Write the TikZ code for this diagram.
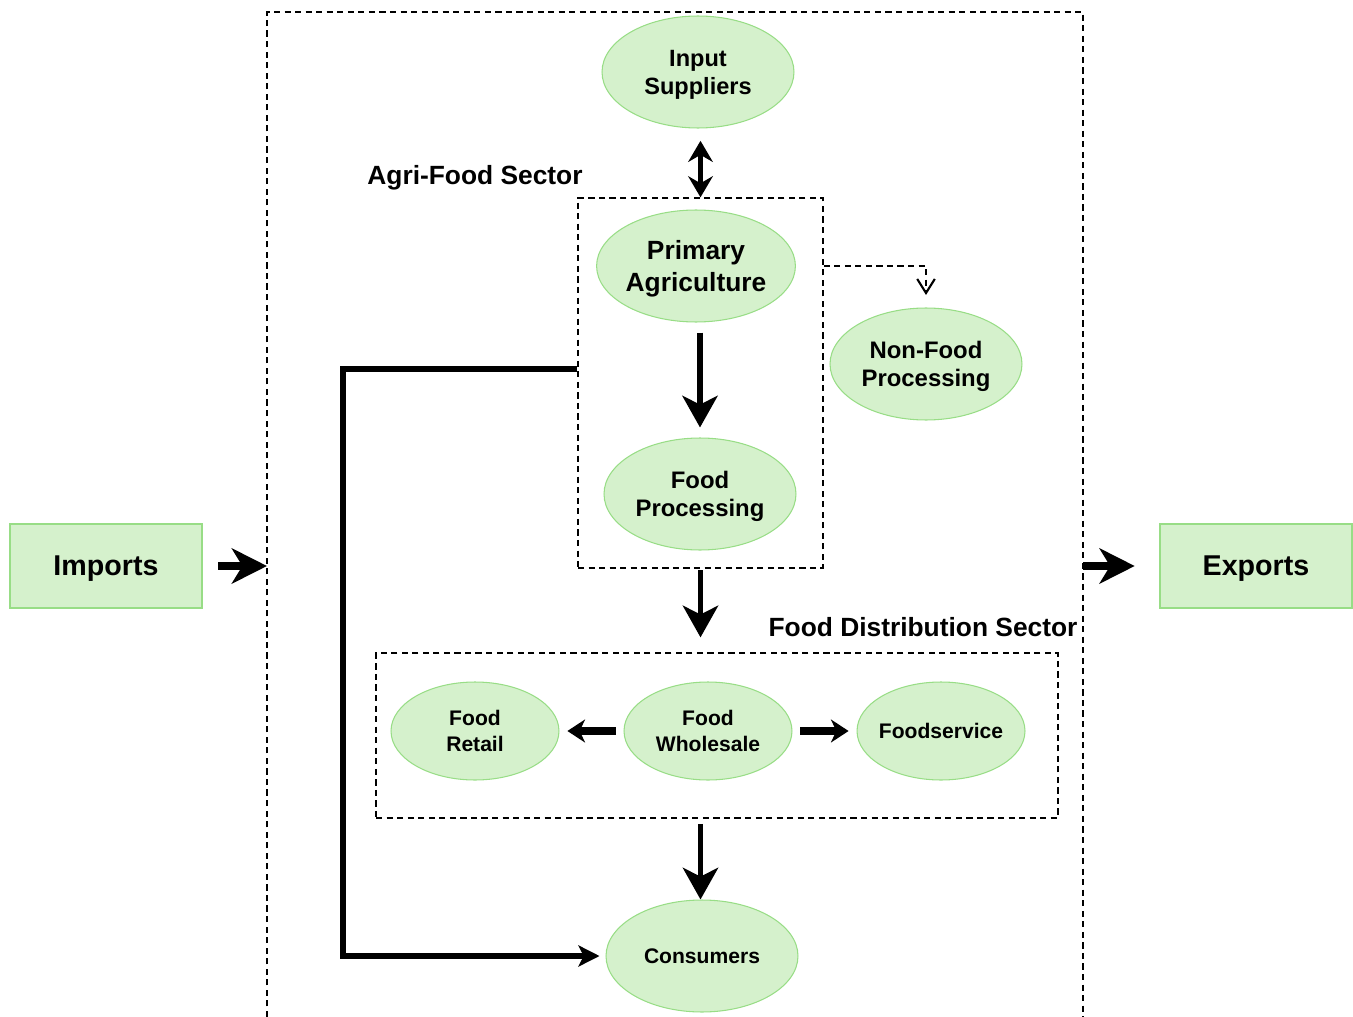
\documentclass[tikz,border=0pt]{standalone}
\usepackage{fontspec}
\setmainfont{Liberation Sans}
\usetikzlibrary{arrows.meta,positioning,shapes.geometric}

\definecolor{stagefill}{RGB}{213,241,204}
\definecolor{stageline}{RGB}{152,221,134}

\tikzset{
  stage/.style={ellipse, draw=stageline, fill=stagefill, line width=0.6pt,
    inner sep=0pt, text depth=0pt, align=center, font=\bfseries},
  bigstage/.style={stage, minimum width=3.84cm, minimum height=2.24cm},
  smallstage/.style={stage, minimum width=3.36cm, minimum height=1.96cm,
    inner xsep=-3pt, font=\bfseries\fontsize{12}{14.7}\selectfont},
  tradebox/.style={rectangle, draw=stageline, fill=stagefill, line width=0.8pt,
    minimum width=3.84cm, minimum height=1.68cm, text depth=0pt,
    font=\bfseries\fontsize{16.3}{19}\selectfont},
  sectorbox/.style={rectangle, draw, dashed, line width=0.8pt,
    dash pattern=on 3.5pt off 2.5pt, inner sep=0pt},
  sectorlabel/.style={font=\bfseries\fontsize{15}{18}\selectfont},
  flow/.style={line width=3.4pt, -{Stealth[length=18pt,width=20pt,inset=5pt]}},
  tradeflow/.style={line width=4.2pt, -{Stealth[length=20pt,width=20pt,inset=6pt]}},
  sideflow/.style={line width=4.2pt, -{Stealth[length=10pt,width=13pt,inset=3pt]}},
}

\begin{document}
\begin{tikzpicture}[x=0.02cm,y=-0.02cm,>=Stealth]
  \useasboundingbox (0,0) rectangle (1353,1017);

  % sector frame, open at the bottom
  \coordinate (frameSW) at (267,1017);
  \coordinate (frameNW) at (267,12);
  \coordinate (frameNE) at (1083,12);
  \coordinate (frameSE) at (1083,1017);
  \draw[line width=0.8pt, dash pattern=on 3.5pt off 2.5pt]
    (frameSW) -- (frameNW) -- (frameNE) -- (frameSE);

  \node (imports) [tradebox] at (106,566) {Imports};
  \node (exports) [tradebox] at (1256,566) {Exports};

  \node (agribox) [sectorbox, minimum width=4.9cm, minimum height=7.4cm] at (700.5,383) {};
  \node (distbox) [sectorbox, minimum width=13.64cm, minimum height=3.3cm] at (717,735.5) {};

  \node (agrilabel) [sectorlabel] at (475,178) {Agri-Food Sector};
  \node (distlabel) [sectorlabel] at (923,627) {Food Distribution Sector};

  \node (input) [bigstage, font=\bfseries\fontsize{13.4}{15.9}\selectfont] at (698,72) {Input\\Suppliers};
  \node (primary) [bigstage, font=\bfseries\fontsize{15}{18}\selectfont] at (696,266) {Primary\\Agriculture};
  \node (nonfood) [bigstage, font=\bfseries\fontsize{13.6}{16}\selectfont] at (926,364) {Non-Food\\Processing};
  \node (foodproc) [bigstage, font=\bfseries\fontsize{13.6}{16}\selectfont] at (700,494) {Food\\Processing};

  \node (wholesale) [smallstage] at (708,731) {Food\\Wholesale};
  \node (retail) [smallstage, left=1.28cm of wholesale] {Food\\Retail};
  \node (foodservice) [smallstage, right=1.28cm of wholesale] {Foodservice};

  \node (consumers) [bigstage, font=\bfseries\fontsize{12}{14.7}\selectfont] at (702,956) {Consumers};

  \coordinate (nftop) at (926,295);
  \coordinate (bend) at (343,369);

  \draw[line width=2.3pt, {Stealth[length=12pt,width=14pt,inset=4pt]}-{Stealth[length=12pt,width=14pt,inset=4pt]},
    shorten <=7pt] (agribox.north |- input.south) -- (agribox.north);
  \draw[line width=0.8pt, dash pattern=on 3.5pt off 2.5pt, -{Straight Barb[length=8pt,width=10pt,line width=1.2pt]}]
    (agribox.east |- primary) -| (nftop);

  \draw[flow, shorten <=5.7pt, shorten >=5.7pt] (primary.south -| foodproc) -- (foodproc.north);
  \draw[flow, shorten <=1pt, shorten >=8.5pt] (agribox.south) -- (agribox.south |- distbox.north);
  \draw[flow, shorten <=3pt] (distbox.south -| agribox.south) -- (agribox.south |- consumers.north);

  \draw[sideflow, shorten <=4.5pt, shorten >=4.5pt] (wholesale) -- (retail);
  \draw[sideflow, shorten <=4.5pt, shorten >=4.5pt] (wholesale) -- (foodservice);

  \draw[tradeflow, shorten <=9pt] (imports.east) -- (imports.east -| frameNW);
  \draw[tradeflow, shorten >=14pt] (exports.west -| frameNE) -- (exports.west);

  \draw[line width=3.4pt, -{Stealth[length=12pt,width=12pt,inset=3pt]}, shorten >=3.4pt]
    (agribox.west |- bend) -- (bend) |- (consumers.west);
\end{tikzpicture}
\end{document}
